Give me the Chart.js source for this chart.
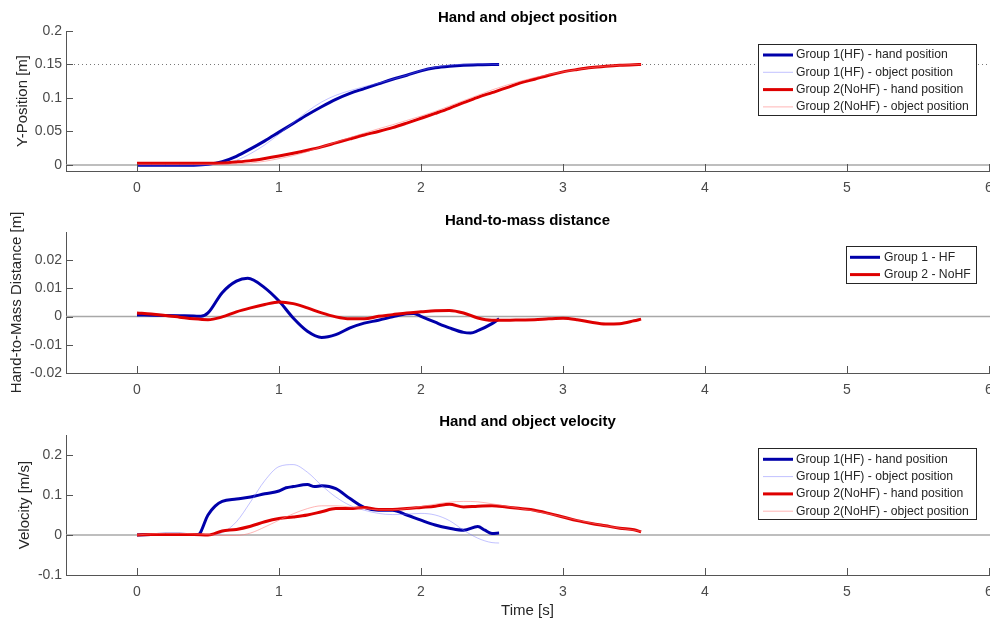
<!DOCTYPE html>
<html lang="en">
<head>
<meta charset="UTF-8">
<title>Hand and object position</title>
<style>
  html, body { margin: 0; padding: 0; background: #fff; width: 990px; height: 624px; overflow: hidden; }
  .panel { position: absolute; left: 0; width: 1000px; }
  canvas { display: block; }
</style>
</head>
<body>
<div class="panel" style="top:0px"><canvas id="posChart" width="1000" height="200"></canvas></div>
<div class="panel" style="top:200px"><canvas id="distChart" width="1000" height="200"></canvas></div>
<div class="panel" style="top:400px"><canvas id="velChart" width="1000" height="224"></canvas></div>

<script src="https://cdn.jsdelivr.net/npm/chart.js@4"></script>
<script>
  // ---- data (time in s) ----
  const timeTicks = [0, 1, 2, 3, 4, 5, 6];
  const posTicks = [0, 0.05, 0.1, 0.15, 0.2];
  const distTicks = [-0.02, -0.01, 0, 0.01, 0.02];
  const velTicks = [-0.1, 0, 0.1, 0.2];

  const tHF = [0, 0.1, 0.2, 0.3, 0.4, 0.5, 0.6, 0.7, 0.8, 0.9, 1.0, 1.1, 1.2, 1.3, 1.4, 1.5, 1.6, 1.7, 1.8, 1.9, 2.0, 2.1, 2.2, 2.3, 2.4, 2.5, 2.55];
  const tNoHF = [0, 0.1, 0.2, 0.3, 0.4, 0.5, 0.6, 0.7, 0.8, 0.9, 1.0, 1.1, 1.2, 1.3, 1.4, 1.5, 1.6, 1.7, 1.8, 1.9, 2.0, 2.1, 2.2, 2.3, 2.4, 2.5, 2.6, 2.7, 2.8, 2.9, 3.0, 3.1, 3.2, 3.3, 3.4, 3.5, 3.55];

  // position [m]
  const posHandHF = [-0.0005, -0.0005, -0.0005, -0.0005, -0.0003, 0.001, 0.005, 0.013, 0.024, 0.036, 0.049, 0.062, 0.075, 0.087, 0.098, 0.107, 0.114, 0.121, 0.128, 0.134, 0.1405, 0.145, 0.1475, 0.149, 0.1495, 0.15, 0.15];
  const posObjHF = [0, 0, 0, 0, 0, 0, 0.002, 0.007, 0.017, 0.03, 0.046, 0.063, 0.08, 0.094, 0.104, 0.111, 0.117, 0.122, 0.128, 0.134, 0.141, 0.146, 0.149, 0.1505, 0.151, 0.1505, 0.15];
  const posHandNoHF = [0.0025, 0.0025, 0.0025, 0.0025, 0.0025, 0.0025, 0.003, 0.0045, 0.0065, 0.0097, 0.0134, 0.0175, 0.022, 0.027, 0.033, 0.039, 0.0448, 0.05, 0.0557, 0.0625, 0.0697, 0.077, 0.0846, 0.093, 0.101, 0.108, 0.115, 0.1225, 0.128, 0.134, 0.139, 0.1425, 0.1455, 0.1475, 0.149, 0.1498, 0.15];
  const posObjNoHF = [0.001, 0.001, 0.001, 0.001, 0.001, 0.001, 0.001, 0.0015, 0.003, 0.0055, 0.0095, 0.014, 0.02, 0.027, 0.034, 0.041, 0.0475, 0.054, 0.06, 0.0665, 0.073, 0.08, 0.088, 0.096, 0.104, 0.112, 0.119, 0.125, 0.1305, 0.135, 0.139, 0.1425, 0.1455, 0.1475, 0.149, 0.1498, 0.15];

  // hand-to-mass distance [m]
  const tDistHF = [0, 0.1, 0.2, 0.3, 0.4, 0.45, 0.5, 0.6, 0.7, 0.78, 0.9, 1.0, 1.1, 1.2, 1.3, 1.4, 1.5, 1.6, 1.7, 1.8, 1.9, 1.95, 2.0, 2.1, 2.2, 2.3, 2.35, 2.4, 2.5, 2.55];
  const distHF = [0.0006, 0.0005, 0.0004, 0.0003, 0.0002, 0.0001, 0.0013, 0.0085, 0.0126, 0.0136, 0.0102, 0.0055, -0.0005, -0.0052, -0.0074, -0.0064, -0.004, -0.0023, -0.0013, -0.0001, 0.001, 0.0011, 0.0001, -0.002, -0.004, -0.0056, -0.0058, -0.005, -0.0025, -0.0008];
  const distNoHF = [0.0013, 0.0009, 0.0004, -0.0002, -0.0008, -0.0011, -0.0001, 0.0017, 0.0031, 0.0043, 0.0052, 0.0046, 0.0031, 0.0013, -0.0001, -0.0008, -0.0008, 0.0001, 0.0007, 0.0013, 0.0017, 0.0021, 0.0022, 0.0013, -0.0005, -0.0013, -0.0013, -0.0012, -0.0011, -0.0008, -0.0006, -0.0011, -0.002, -0.0026, -0.0025, -0.0015, -0.0009];

  // velocity [m/s]
  const tVelHandHF = [0, 0.1, 0.2, 0.3, 0.4, 0.43, 0.5, 0.55, 0.6, 0.7, 0.8, 0.9, 1.0, 1.05, 1.1, 1.2, 1.25, 1.3, 1.4, 1.5, 1.6, 1.7, 1.8, 1.9, 2.0, 2.1, 2.2, 2.3, 2.4, 2.45, 2.5, 2.55];
  const velHandHF = [0, 0.001, 0.002, 0.002, 0.001, 0.001, 0.05, 0.072, 0.084, 0.09, 0.095, 0.103, 0.11, 0.118, 0.121, 0.126, 0.121, 0.123, 0.116, 0.091, 0.069, 0.062, 0.062, 0.05, 0.037, 0.025, 0.017, 0.012, 0.021, 0.012, 0.004, 0.005];
  const velObjHF = [0, 0, 0, 0, 0, 0, 0.006, 0.033, 0.083, 0.136, 0.171, 0.176, 0.157, 0.124, 0.095, 0.074, 0.062, 0.054, 0.051, 0.052, 0.054, 0.05, 0.036, 0.012, -0.008, -0.019, -0.02];
  const velHandNoHF = [0, 0.001, 0.001, 0.001, 0.001, 0, 0.01, 0.014, 0.022, 0.033, 0.041, 0.045, 0.05, 0.058, 0.066, 0.066, 0.069, 0.064, 0.064, 0.066, 0.069, 0.072, 0.077, 0.07, 0.072, 0.073, 0.07, 0.066, 0.062, 0.054, 0.045, 0.036, 0.029, 0.023, 0.017, 0.013, 0.008];
  const velObjNoHF = [0, 0.003, 0.004, 0.004, 0.003, 0.001, -0.001, -0.001, 0.005, 0.02, 0.037, 0.053, 0.066, 0.073, 0.073, 0.07, 0.066, 0.063, 0.063, 0.066, 0.071, 0.077, 0.082, 0.084, 0.083, 0.078, 0.072, 0.066, 0.06, 0.053, 0.045, 0.037, 0.03, 0.023, 0.017, 0.012, 0.009];

  // ---- styling ----
  const BLUE = 'rgb(0, 0, 170)';
  const RED = 'rgb(222, 0, 0)';
  const LIGHT_BLUE = 'rgba(120, 120, 255, 0.45)';
  const LIGHT_RED = 'rgba(255, 120, 120, 0.55)';
  const AXIS = '#555555';
  const TEXT = '#4a4a4a';
  const FONT = '"Liberation Sans", Arial, sans-serif';

  const pts = (ts, vs) => ts.map((t, i) => ({ x: t, y: vs[i] }));
  const fmt = v => String(Math.round(v * 1000) / 1000);

  function line(label, ts, vs, color, width, order) {
    return {
      label: label,
      data: pts(ts, vs),
      borderColor: color,
      borderWidth: width,
      pointRadius: 0,
      fill: false,
      cubicInterpolationMode: 'monotone',
      order: order
    };
  }

  // MATLAB-ish extras: zero line, inner ticks, bold title, boxed legend
  const matlabLook = {
    id: 'matlabLook',
    beforeDatasetsDraw(chart, args, opts) {
      const { ctx, chartArea: a, scales: { y } } = chart;
      ctx.save();
      const y0 = y.getPixelForValue(0);
      ctx.strokeStyle = '#a8a8a8';
      ctx.lineWidth = 1.5;
      ctx.beginPath();
      ctx.moveTo(a.left, y0);
      ctx.lineTo(a.right + 11, y0);
      ctx.stroke();
      if (opts.dotted != null) {
        const yd = Math.round(y.getPixelForValue(opts.dotted)) + 0.5;
        ctx.strokeStyle = '#777';
        ctx.lineWidth = 1;
        ctx.setLineDash([1, 3]);
        ctx.beginPath();
        ctx.moveTo(a.left, yd);
        ctx.lineTo(a.right + 11, yd);
        ctx.stroke();
      }
      ctx.restore();
    },
    afterDraw(chart, args, opts) {
      const { ctx, chartArea: a, scales: { x, y } } = chart;
      ctx.save();
      // inward tick marks
      ctx.strokeStyle = AXIS;
      ctx.lineWidth = 1;
      ctx.beginPath();
      x.ticks.forEach(t => {
        const px = Math.round(x.getPixelForValue(t.value)) + 0.5;
        ctx.moveTo(px, a.bottom);
        ctx.lineTo(px, a.bottom - 7);
      });
      y.ticks.forEach(t => {
        const py = Math.round(y.getPixelForValue(t.value)) + 0.5;
        ctx.moveTo(a.left, py);
        ctx.lineTo(a.left + 7, py);
      });
      ctx.stroke();

      // title
      ctx.fillStyle = '#000';
      ctx.font = 'bold 15px ' + FONT;
      ctx.textAlign = 'center';
      ctx.textBaseline = 'middle';
      ctx.fillText(opts.title, (a.left + a.right) / 2, opts.titleY);

      // legend
      const L = opts.legend;
      ctx.fillStyle = '#fff';
      ctx.fillRect(L.x, L.y, L.w, L.h);
      ctx.strokeStyle = '#262626';
      ctx.lineWidth = 1;
      ctx.strokeRect(L.x + 0.5, L.y + 0.5, L.w, L.h);
      ctx.font = '12.2px ' + FONT;
      ctx.textAlign = 'left';
      chart.data.datasets.forEach((ds, i) => {
        const cy = L.y + L.first + i * L.step;
        ctx.strokeStyle = ds.borderColor;
        ctx.lineWidth = ds.borderWidth;
        ctx.beginPath();
        ctx.moveTo(L.x + L.lineFrom, cy);
        ctx.lineTo(L.x + L.lineTo, cy);
        ctx.stroke();
        ctx.fillStyle = '#262626';
        ctx.fillText(ds.label, L.x + L.textX, cy);
      });
      ctx.restore();
    }
  };

  function makeOptions(cfg) {
    return {
      responsive: false,
      animation: false,
      layout: { padding: { top: cfg.areaTop, right: 11, bottom: 0, left: 0 } },
      plugins: {
        legend: { display: false },
        tooltip: { enabled: false },
        matlabLook: cfg.look
      },
      scales: {
        x: {
          type: 'linear',
          min: -0.5,
          max: 6,
          grid: { display: false, drawTicks: false },
          border: { color: AXIS },
          ticks: { color: TEXT, font: { family: FONT, size: 14 }, padding: 9, maxRotation: 0, callback: fmt },
          afterBuildTicks: s => { s.ticks = timeTicks.map(v => ({ value: v })); },
          afterFit: s => { s.height = cfg.xHeight; s.paddingLeft = 0; s.paddingRight = 0; },
          title: cfg.xTitle
            ? { display: true, text: cfg.xTitle, color: '#262626', font: { family: FONT, size: 15 }, padding: { top: 0, bottom: 4 } }
            : { display: false }
        },
        y: {
          min: cfg.yMin,
          max: cfg.yMax,
          grid: { display: false, drawTicks: false },
          border: { color: AXIS },
          ticks: { color: TEXT, font: { family: FONT, size: 14 }, padding: 4, callback: fmt },
          afterBuildTicks: s => { s.ticks = cfg.yTicks.map(v => ({ value: v })); },
          afterFit: s => { s.width = 66; },
          title: { display: true, text: cfg.yTitle, color: '#262626', font: { family: FONT, size: 15 }, padding: { top: cfg.yTitlePad, bottom: 0 } }
        }
      }
    };
  }

  new Chart(document.getElementById('posChart'), {
    type: 'line',
    plugins: [matlabLook],
    data: {
      datasets: [
        line('Group 1(HF) - hand position', tHF, posHandHF, BLUE, 3, 4),
        line('Group 1(HF) - object position', tHF, posObjHF, LIGHT_BLUE, 1, 3),
        line('Group 2(NoHF) - hand position', tNoHF, posHandNoHF, RED, 3, 2),
        line('Group 2(NoHF) - object position', tNoHF, posObjNoHF, LIGHT_RED, 1, 1)
      ]
    },
    options: makeOptions({
      areaTop: 31, xHeight: 29, yMin: -0.009, yMax: 0.2, yTicks: posTicks,
      yTitle: 'Y-Position [m]', yTitlePad: 14,
      look: {
        title: 'Hand and object position', titleY: 18, dotted: 0.15,
        legend: { x: 758, y: 44, w: 218, h: 71, first: 11, step: 17.3, lineFrom: 5, lineTo: 35, textX: 38 }
      }
    })
  });

  new Chart(document.getElementById('distChart'), {
    type: 'line',
    plugins: [matlabLook],
    data: {
      datasets: [
        line('Group 1 - HF', tDistHF, distHF, BLUE, 3, 2),
        line('Group 2 - NoHF', tNoHF, distNoHF, RED, 3, 1)
      ]
    },
    options: makeOptions({
      areaTop: 32, xHeight: 27, yMin: -0.02, yMax: 0.03, yTicks: distTicks,
      yTitle: 'Hand-to-Mass Distance [m]', yTitlePad: 8,
      look: {
        title: 'Hand-to-mass distance', titleY: 21,
        legend: { x: 846, y: 46, w: 130, h: 37, first: 11.3, step: 17.3, lineFrom: 4, lineTo: 34, textX: 38 }
      }
    })
  });

  new Chart(document.getElementById('velChart'), {
    type: 'line',
    plugins: [matlabLook],
    data: {
      datasets: [
        line('Group 1(HF) - hand position', tVelHandHF, velHandHF, BLUE, 3, 4),
        line('Group 1(HF) - object position', tHF, velObjHF, LIGHT_BLUE, 1, 3),
        line('Group 2(NoHF) - hand position', tNoHF, velHandNoHF, RED, 3, 2),
        line('Group 2(NoHF) - object position', tNoHF, velObjNoHF, LIGHT_RED, 1, 1)
      ]
    },
    options: makeOptions({
      areaTop: 35, xHeight: 49, yMin: -0.1, yMax: 0.25, yTicks: velTicks,
      yTitle: 'Velocity [m/s]', yTitlePad: 16, xTitle: 'Time [s]',
      look: {
        title: 'Hand and object velocity', titleY: 22,
        legend: { x: 758, y: 48, w: 218, h: 71, first: 11.3, step: 17.3, lineFrom: 5, lineTo: 35, textX: 38 }
      }
    })
  });
</script>
</body>
</html>
